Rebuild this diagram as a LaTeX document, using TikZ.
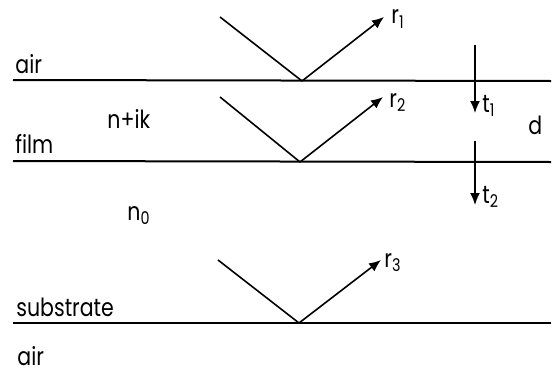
\documentclass[tikz,border=0pt]{standalone}
\usepackage{fontspec}
\setmainfont{Poppins}[FakeStretch=0.82]
\usepackage{tikz}
\usetikzlibrary{arrows.meta,positioning}

\begin{document}
\begin{tikzpicture}[x=0.5pt, y=-0.5pt,
    every node/.style={font=\fontsize{12.5}{14}\selectfont, inner sep=0pt},
    layer/.style={anchor=base west},
    iface/.style={line width=1pt},
    ray/.style={line width=0.8pt},
    beam/.style={-{Latex[length=6pt,width=5pt]}, line width=0.8pt}]
    \useasboundingbox (0,0) rectangle (555,375);
    % interfaces
    \coordinate (topL) at (13,80);   \coordinate (topR) at (551,81);
    \coordinate (midL) at (13,161);  \coordinate (midR) at (551,162);
    \coordinate (botL) at (13,323);  \coordinate (botR) at (551,323);
    \draw[iface] (topL) -- (topR);
    \draw[iface] (midL) -- (midR);
    \draw[iface] (botL) -- (botR);
    % reflections
    \coordinate (in1) at (220,17);  \coordinate (hit1) at (302,81);  \coordinate (out1) at (384,17);
    \coordinate (in2) at (220,97);  \coordinate (hit2) at (300,162); \coordinate (out2) at (383,97);
    \coordinate (in3) at (218,260); \coordinate (hit3) at (299,323); \coordinate (out3) at (381,260);
    \draw[ray] (in1) -- (hit1);
    \draw[beam] (hit1) -- (out1);
    \draw[ray] (in2) -- (hit2);
    \draw[beam] (hit2) -- (out2);
    \draw[ray] (in3) -- (hit3);
    \draw[beam] (hit3) -- (out3);
    % transmissions
    \coordinate (tin1) at (475,45);  \coordinate (tout1) at (475,113);
    \coordinate (tin2) at (475,141); \coordinate (tout2) at (475,205);
    \draw[beam] (tin1) -- (tout1);
    \draw[beam] (tin2) -- (tout2);
    % labels
    \node[layer] (airtop) at (15,73) {air};
    \node[layer] (index) at (107,128) {n+ik};
    \node[layer] (film) at (15,153) {film};
    \node[layer] (nzero) at (127,220) {n\textsubscript{0}};
    \node[layer] (substrate) at (16,316) {substrate};
    \node[layer] (airbot) at (17,365) {air};
    \node[layer] (thick) at (528,134) {d};
    \node[layer] (r1) at (391,24) {r\textsubscript{1}};
    \node[layer] (r2) at (389,107) {r\textsubscript{2}};
    \node[layer] (r3) at (384,267) {r\textsubscript{3}};
    \node[layer] (t1) at (482,112) {t\textsubscript{1}};
    \node[layer] (t2) at (482,203) {t\textsubscript{2}};
\end{tikzpicture}
\end{document}
